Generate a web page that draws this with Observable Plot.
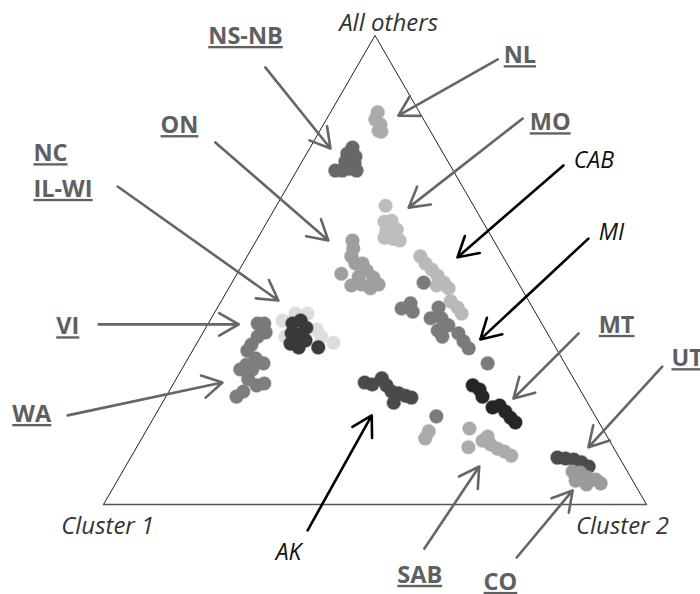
<!DOCTYPE html>
<html>
<head>
<meta charset="utf-8">
<script src="https://cdn.jsdelivr.net/npm/d3@7"></script>
<script src="https://cdn.jsdelivr.net/npm/@observablehq/plot@0.6"></script>
<style>
  html, body { margin: 0; padding: 0; background: #fff; }
</style>
</head>
<body>
<div id="chart"></div>
<script>
// Ternary compositions in percent: [Cluster 2 share, All-others share]; Cluster 1 = 100 - both.
const IL_WI = [[13.4,39.2],[15.0,40.7],[17.2,40.7],[20.6,37.3],[22.2,35.8],[25.1,34.5],[15.6,35.8]];
const NL = [[8.7,83.6],[9.0,82.1],[10.5,81.0],[10.8,79.7],[11.4,79.5]];
const NS_NB = [[7.8,76.1],[7.5,74.8],[9.3,74.2],[8.0,73.1],[9.9,72.7],[9.5,71.6],[11.0,71.2],[8.4,71.2],[7.1,71.2]];
const MO = [[20.1,63.7],[21.6,60.3],[22.8,60.5],[22.9,58.4],[24.7,58.6],[24.9,56.7],[26.4,56.3],[23.3,56.9]];
const ON = [[17.7,56.3],[18.7,54.6],[19.2,52.9],[20.7,51.4],[22.0,51.4],[23.5,49.9],[25.5,48.4],[27.2,46.9],[26.1,46.1],[24.1,46.9],[22.3,46.7],[19.2,49.2],[22.7,48.6]];
const CAB = [[31.9,52.9],[33.6,51.4],[35.4,50.1],[37.1,48.8],[39.0,47.3],[40.5,46.1],[38.0,46.7],[42.3,43.3],[44.2,42.0],[45.6,40.7]];
const MI = [[35.3,47.3],[34.0,41.8],[35.1,42.9],[36.4,41.1],[40.7,42.0],[40.4,39.7],[42.4,39.7],[44.4,38.2],[43.0,37.1],[44.5,35.8],[47.1,36.5],[48.9,34.8],[50.6,33.3],[55.7,30.1],[51.9,18.8]];
const VI = [[9.1,38.6],[10.3,38.6],[11.5,36.7],[10.5,35.8],[10.2,34.1],[10.1,32.8]];
const WA = [[12.5,31.1],[11.4,29.8],[14.4,30.1],[10.8,28.8],[13.0,28.8],[13.3,26.7],[15.5,25.4],[16.7,25.8],[13.7,24.1],[13.0,23.0]];
const NC = [[15.5,38.6],[16.7,39.2],[18.5,37.7],[16.4,36.5],[18.0,36.2],[19.7,35.0],[17.3,34.3],[19.2,33.5],[22.8,33.5]];
const AK = [[35.1,26.0],[36.7,25.6],[37.8,26.9],[39.4,25.4],[41.0,24.1],[42.5,23.7],[44.0,23.2],[45.3,22.8],[42.6,21.7]];
const MT = [[55.3,25.4],[57.0,24.5],[58.3,23.0],[61.3,20.7],[62.4,21.1],[64.1,19.8],[65.7,18.5],[67.1,17.5]];
const SAB = [[52.1,15.6],[52.2,14.1],[59.3,16.2],[61.1,12.2],[63.0,13.6],[64.9,12.8],[66.6,11.9],[68.2,11.3],[69.9,10.4],[63.5,14.5]];
const UT = [[78.6,10.0],[80.2,9.8],[81.8,9.6],[83.5,9.0],[85.3,8.1]];
const CO = [[82.9,7.0],[84.4,6.8],[84.4,5.1],[86.2,5.8],[88.0,5.3],[89.3,4.5],[86.8,4.3]];

const clusterNames = ["IL-WI","NL","NS-NB","MO","ON","CAB","MI","VI","WA","NC","AK","MT","SAB","UT","CO"];
const clusterData  = [IL_WI, NL, NS_NB, MO, ON, CAB, MI, VI, WA, NC, AK, MT, SAB, UT, CO];
const clusterShades = ["#dddddd","#ababab","#686868","#bdbdbd","#9e9e9e","#b9b9b9","#7b7b7b","#7a7a7a","#7e7e7e","#3a3a3a","#4a4a4a","#262626","#ababab","#4b4b4b","#9b9b9b"];

const cornerLabels = ["All others","Cluster 1","Cluster 2"];
const underlinedLabels = ["NS-NB","NL","ON","MO","NC","IL-WI","VI","MT","UT","WA","SAB","CO"];
const italicLabels = ["CAB","MI","AK"];

// annotation layout (triangle frame: x along base 0-100, y height 0-100)
const cornerPos = [[52.5,102.6],[-7.8,-4.7],[87.0,-4.7]];
const underlinedPos = [[19.3,99.8],[73.7,95.7],[10.5,80.8],[78.5,81.4],[-12.9,74.8],[-12.9,67.2],[-8.7,37.9],[91.2,38.2],[104.6,31.1],[-16.8,19.2],[54.1,-15.1],[70.0,-16.6]];
const italicPos = [[86.6,73.3],[91.2,58.0],[31.7,-10.2]];
const grayArrows = [
  [29.8,93.2,41.8,75.9],[72.6,94.9,54.3,82.9],[20.6,77.2,41.4,56.3],[77.2,82.3,56.2,63.3],
  [2.6,67.8,32.2,43.5],[-0.9,38.4,24.9,38.4],[-6.6,19.0,21.9,26.0],[87.5,36.5,75.5,22.6],
  [102.9,29.4,89.3,12.2],[59.1,-9.4,69.2,8.1],[76.1,-11.3,86.4,3.0]];
const blackArrows = [[84.7,72.3,65.2,52.7],[89.3,56.7,69.4,35.2],[37.6,-5.5,49.4,19.0]];
const triangle = [[0,0],[100,0],[50,100],[0,0]];

const arrowRows = a => a.map(([x1,y1,x2,y2]) => ({x1,y1,x2,y2}));
const font = "'Open Sans', sans-serif";

const dotMarks = clusterData.map((pts, i) =>
  Plot.dot(pts.map(([c2, o]) => ({cluster: clusterNames[i], c2, o})), {
    x: d => d.c2 + d.o / 2, y: "o", r: 6.8, fill: clusterShades[i], stroke: clusterShades[i],
    strokeOpacity: 0.35, strokeWidth: 1.5
  })
);

const chart = Plot.plot({
  width: 700, height: 594,
  marginLeft: 103, marginRight: 54, marginTop: 35, marginBottom: 90,
  x: {domain: [0, 100], axis: null},
  y: {domain: [0, 100], axis: null},
  style: {background: "#fff"},
  marks: [
    Plot.line(triangle, {x: d => d[0], y: d => d[1], stroke: "#222", strokeWidth: 1}),
    Plot.line([triangle[0], triangle[1]], {x: d => d[0], y: d => d[1], stroke: "#555", strokeWidth: 1.6}),
    ...dotMarks,
    Plot.arrow(arrowRows(grayArrows), {x1: "x1", y1: "y1", x2: "x2", y2: "y2", stroke: "#666", strokeWidth: 2.6, headLength: 13, headAngle: 60}),
    Plot.arrow(arrowRows(blackArrows), {x1: "x1", y1: "y1", x2: "x2", y2: "y2", stroke: "#000", strokeWidth: 2.6, headLength: 13, headAngle: 60}),
    Plot.text(cornerLabels.map((t, i) => ({t, x: cornerPos[i][0], y: cornerPos[i][1]})), {
      x: "x", y: "y", text: "t", textAnchor: "start", fontSize: 24, fontStyle: "italic", fontFamily: font, fill: "#333", lineAnchor: "middle"
    }),
    Plot.text(underlinedLabels.map((t, i) => ({t, x: underlinedPos[i][0], y: underlinedPos[i][1]})), {
      x: "x", y: "y", text: "t", textAnchor: "start", fontSize: 23.5, fontWeight: "bold", fontFamily: font, fill: "#606060", lineAnchor: "middle"
    }),
    Plot.text(italicLabels.map((t, i) => ({t, x: italicPos[i][0], y: italicPos[i][1]})), {
      x: "x", y: "y", text: "t", textAnchor: "start", fontSize: 23, fontStyle: "italic", fontFamily: font, fill: "#111", lineAnchor: "middle"
    })
  ]
});

const textGroups = chart.querySelectorAll('g[aria-label="text"]');
// centre "All others" over the apex
textGroups[0].querySelector("text").setAttribute("text-anchor", "middle");
// underline the gray bold region labels
textGroups[1].querySelectorAll("text").forEach(t => {
  t.setAttribute("text-decoration", "underline");
  t.style.textDecoration = "underline";
});
document.getElementById("chart").appendChild(chart);
</script>
</body>
</html>
